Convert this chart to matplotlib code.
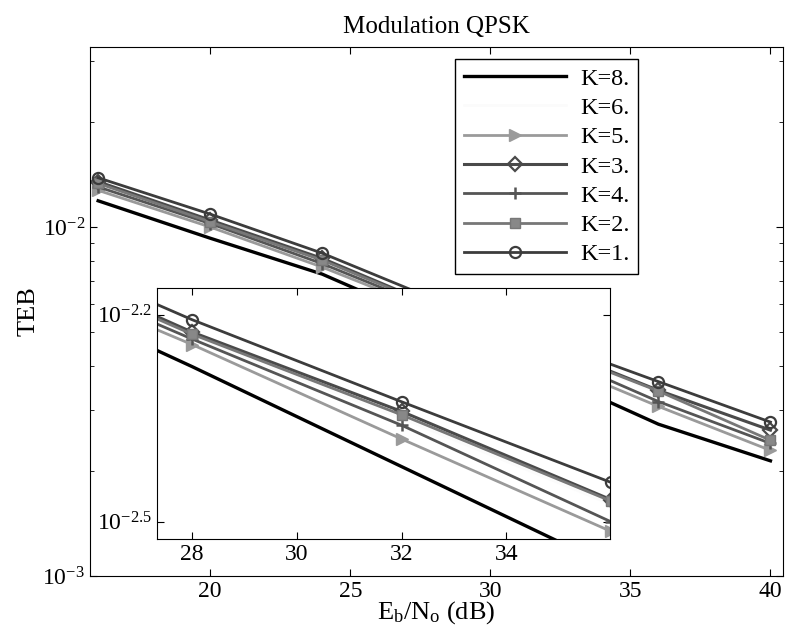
import matplotlib
matplotlib.use('Agg')
import matplotlib.pyplot as plt
from matplotlib.ticker import FixedLocator, NullLocator

plt.rcParams['font.family'] = ['Liberation Serif', 'DejaVu Serif']
plt.rcParams['mathtext.fontset'] = 'custom'
plt.rcParams['mathtext.rm'] = 'Liberation Serif'
plt.rcParams['mathtext.it'] = 'Liberation Serif'

# Eb/No points (dB)
ebno = [16, 20, 24, 28, 32, 36, 40]

# TEB, one list per K
teb_k8 = [0.01189, 0.00929, 0.007328, 0.005309, 0.003802, 0.002723, 0.002138]
teb_k6 = [0.01318, 0.01028, 0.007943, 0.005861, 0.004467, 0.00335, 0.002512]
teb_k5 = [0.01274, 0.0100, 0.007674, 0.005715, 0.004169, 0.003062, 0.002291]
teb_k3 = [0.01349, 0.01047, 0.008128, 0.005957, 0.004571, 0.003404, 0.002618]
teb_k4 = [0.01303, 0.01023, 0.007852, 0.005821, 0.004365, 0.003162, 0.002399]
teb_k2 = [0.01334, 0.01035, 0.008035, 0.005916, 0.004519, 0.003388, 0.002449]
teb_k1 = [0.01384, 0.01089, 0.008414, 0.006209, 0.004721, 0.003606, 0.002761]

labels = ['K=8.', 'K=6.', 'K=5.', 'K=3.', 'K=4.', 'K=2.', 'K=1.']
series = [teb_k8, teb_k6, teb_k5, teb_k3, teb_k4, teb_k2, teb_k1]
styles = [
    dict(color='black', lw=2.4, marker=None),
    dict(color='#fbfbfb', lw=1.8, marker=None, zorder=0.5),
    dict(color='#9a9a9a', lw=2.0, marker='>', ms=8, mfc='#9a9a9a'),
    dict(color='#4a4a4a', lw=2.2, marker='D', ms=7, mfc='none', mew=1.6),
    dict(color='#555555', lw=2.0, marker='+', ms=9, mew=1.8),
    dict(color='#777777', lw=2.0, marker='s', ms=7, mfc='#888888'),
    dict(color='#3c3c3c', lw=2.0, marker='o', ms=8, mfc='none', mew=1.6),
]

fig = plt.figure(figsize=(7.87, 6.4), dpi=100)
ax = fig.add_axes([0.1144, 0.1, 0.8806, 0.8266])

for y, lab, st in zip(series, labels, styles):
    ax.semilogy(ebno, y, label=lab, **st)

ax.set_xlim(15.71, 40.45)
ax.set_ylim(1e-3, 10 ** -1.484)
ax.set_xticks([20, 25, 30, 35, 40])
ax.tick_params(which='both', direction='in', top=True, right=True, labelsize=17)
ax.tick_params(which='major', length=5)
ax.tick_params(which='minor', length=3)
ax.set_title('Modulation QPSK', fontsize=18, pad=10)
ax.set_ylabel('TEB', fontsize=19, labelpad=2)
ax.set_xlabel(r'E$_\mathrm{b}$/N$_\mathrm{o}$ (dB)', fontsize=19, labelpad=-2)

leg = ax.legend(loc='upper left', bbox_to_anchor=(0.527, 0.977), fontsize=17.5,
                fancybox=False, edgecolor='black', framealpha=1,
                handlelength=4.2, borderpad=0.35, labelspacing=0.3,
                handletextpad=0.6, borderaxespad=0)
leg.get_frame().set_linewidth(1.0)

# zoomed inset
axi = fig.add_axes([0.1995, 0.1578, 0.5756, 0.3922])
for y, st in zip(series, styles):
    axi.semilogy(ebno, y, clip_on=True, **st)
axi.set_xlim(27.33, 35.98)
axi.set_ylim(10 ** -2.525, 10 ** -2.161)
axi.set_xticks([28, 30, 32, 34])
axi.yaxis.set_major_locator(FixedLocator([10 ** -2.5, 10 ** -2.2]))
axi.set_yticklabels([r'$10^{-2.5}$', r'$10^{-2.2}$'])
axi.yaxis.set_minor_locator(NullLocator())
axi.tick_params(which='both', direction='in', top=True, right=True, labelsize=17, length=5)

fig.savefig('out.png', dpi=100)
